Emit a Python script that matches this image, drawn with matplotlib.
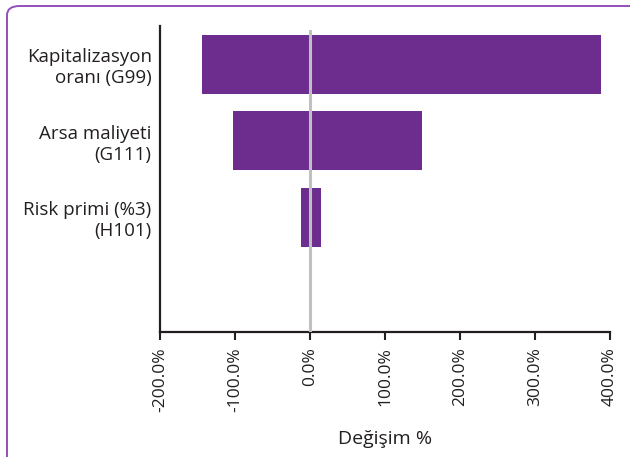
import numpy as np
import matplotlib.pyplot as plt
from matplotlib.patches import FancyBboxPatch
from matplotlib.ticker import FuncFormatter

plt.rcParams['font.family'] = ['Open Sans', 'DejaVu Sans']

# tornado chart: low / high change per input variable
labels = ['Kapitalizasyon\noranı (G99)', 'Arsa maliyeti\n(G111)', 'Risk primi (%3)\n(H101)', '']
low = [-144.0, -103.0, -12.0, 0.0]
high = [388.0, 149.0, 15.0, 0.0]

bar_color = '#6c2d8f'
border_color = '#9450b8'
ink = '#231f20'

fig = plt.figure(figsize=(6.30, 4.57), dpi=100)
ax = fig.add_axes([160 / 630, 1 - 332 / 457, 450 / 630, 306 / 457])

y = np.arange(len(labels))
widths = np.array(high) - np.array(low)
ax.barh(y, widths, left=low, height=0.77, color=bar_color, zorder=2)
ax.axvline(0, color='#c0c0c2', lw=2.2, zorder=3, ymax=0.985)

ax.set_xlim(-200, 400)
ax.set_ylim(3.5, -0.5)
ax.set_xticks(np.arange(-200, 401, 100))
ax.xaxis.set_major_formatter(FuncFormatter(lambda v, p: f'{v:.1f}%'))
ax.tick_params(axis='x', labelrotation=90, labelsize=12.5, colors=ink,
               length=6, width=1.5, pad=5, direction='out')
ax.set_yticks(y)
ax.set_yticklabels(labels, fontsize=13.5, color=ink, linespacing=1.2)
ax.tick_params(axis='y', length=0, pad=6)

for side in ['top', 'right']:
    ax.spines[side].set_visible(False)
for side in ['left', 'bottom']:
    ax.spines[side].set_color(ink)
    ax.spines[side].set_linewidth(1.6)

ax.set_xlabel('Değişim %', fontsize=14, color=ink, labelpad=13)

# rounded frame around the figure, cut off at right and bottom
frame = FancyBboxPatch((7 / 630, -0.1), 1.2, 1 - 6 / 457 + 0.1,
                       boxstyle='round,pad=0,rounding_size=0.02',
                       transform=fig.transFigure, fill=False,
                       edgecolor=border_color, lw=1.4, clip_on=False)
fig.patches.append(frame)

fig.savefig('out.png', dpi=100)
